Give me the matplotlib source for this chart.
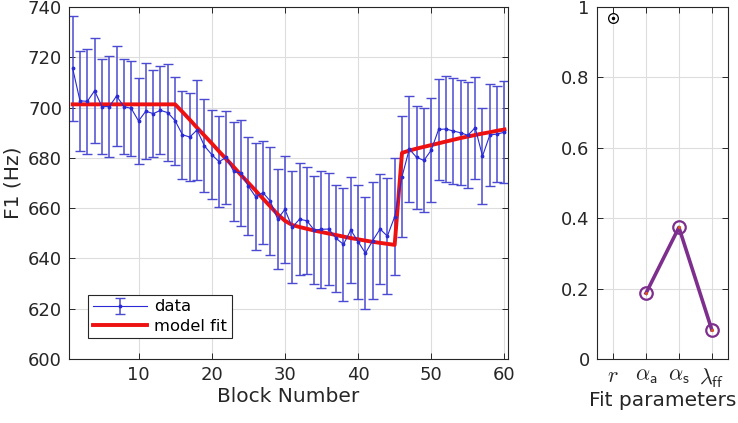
import numpy as np
import matplotlib
matplotlib.use("Agg")
import matplotlib.pyplot as plt

# block-wise F1 means and error bar half-widths
blocks = np.arange(1, 61)
f1_mean = [715.6, 702.7, 702.5, 706.7, 700.4, 700.4, 704.6, 700.4, 699.7, 694.7,
           698.6, 697.6, 698.9, 698.0, 694.8, 689.2, 688.3, 691.1, 684.8, 681.3,
           678.5, 680.2, 674.6, 674.0, 668.8, 664.5, 666.2, 662.8, 655.7, 659.5,
           652.4, 655.6, 655.0, 651.3, 651.6, 651.7, 648.0, 645.6, 651.3, 646.7,
           642.1, 647.1, 651.7, 648.9, 656.6, 672.5, 683.5, 680.2, 679.0, 683.1,
           691.3, 691.5, 690.7, 690.0, 689.0, 692.0, 680.7, 689.1, 689.5, 690.2]
f1_err = [20.8, 20.0, 21.0, 20.8, 19.0, 20.0, 20.0, 19.0, 19.0, 17.0,
          19.0, 17.4, 17.5, 19.3, 17.5, 17.5, 17.6, 19.7, 18.5, 17.6,
          18.0, 18.6, 19.7, 21.0, 19.4, 21.3, 20.5, 21.4, 20.0, 21.4,
          22.3, 22.2, 21.2, 21.3, 23.2, 22.1, 21.2, 22.4, 21.0, 22.7,
          22.3, 23.3, 21.7, 23.0, 23.3, 24.1, 21.2, 20.6, 20.7, 20.8,
          20.2, 21.1, 21.2, 20.9, 21.0, 20.2, 19.2, 20.1, 19.1, 20.2]
model_fit = [701.3] * 15 + [698.3, 695.2, 692.0, 688.9, 685.8, 682.6, 679.5, 676.4,
             673.2, 670.1, 667.0, 663.8, 660.7, 657.6, 655.0,
             653.3, 652.5, 651.8, 651.1, 650.5, 649.9, 649.3, 648.7, 648.1, 647.6,
             647.1, 646.6, 646.2, 645.8, 645.4,
             682.0, 682.9, 683.7, 684.4, 685.1, 685.8, 686.5, 687.2, 687.9, 688.5,
             689.1, 689.7, 690.2, 690.8, 691.3]

# fitted parameters
param_labels = [r'$r$', r'$\alpha_\mathsf{a}$', r'$\alpha_\mathsf{s}$', r'$\lambda_\mathsf{ff}$']
r_value = 0.97
rate_values = [0.187, 0.374, 0.083]

plt.rcParams['font.family'] = 'DejaVu Sans'
plt.rcParams['mathtext.fontset'] = 'cm'

fig = plt.figure(figsize=(7.38, 4.23), dpi=100)
ax = fig.add_axes([0.0935, 0.1513, 0.595, 0.832])
ax2 = fig.add_axes([0.8085, 0.1513, 0.1783, 0.832])

spine_col = '#262626'
for a in (ax, ax2):
    a.grid(True, color='#dddddd', linewidth=0.8)
    a.set_axisbelow(True)
    for s in a.spines.values():
        s.set_color(spine_col)
        s.set_linewidth(0.8)
    a.tick_params(direction='in', top=True, right=True, colors=spine_col,
                  labelsize=13, length=4, width=0.7, pad=5)

ax.errorbar(blocks, f1_mean, yerr=f1_err, color='#2a2ad6', ecolor='#4a4ad2',
            elinewidth=1.1, capsize=3.5, capthick=1.0, linewidth=0.8,
            marker='.', markersize=3.5, label='data')
ax.plot(blocks, model_fit, color='#ee1111', linewidth=2.8, label='model fit')
ax.set_xlim(0.5, 60.5)
ax.set_ylim(600, 740)
ax.set_xticks([10, 20, 30, 40, 50, 60])
ax.set_yticks(range(600, 741, 20))
ax.set_xlabel('Block Number', fontsize=14.5, color='#262626', labelpad=2)
ax.set_ylabel('F1 (Hz)', fontsize=14.5, color='#262626', labelpad=4)
handles, labels = ax.get_legend_handles_labels()
order = [labels.index('data'), labels.index('model fit')]
leg = ax.legend([handles[i] for i in order], [labels[i] for i in order],
                loc='lower left', bbox_to_anchor=(0.025, 0.035), fontsize=11.8,
                fancybox=False, edgecolor=spine_col, framealpha=1,
                handlelength=3.3, borderpad=0.3, labelspacing=0.25, handletextpad=0.4)
leg.get_frame().set_linewidth(0.8)

purple = '#7e2f8e'
ax2.plot([1], [r_value], 'o', markersize=7, markerfacecolor='none',
         markeredgecolor='black', markeredgewidth=0.9)
ax2.plot([1], [r_value], '.', markersize=3, color='black')
ax2.plot([2, 3, 4], rate_values, '-o', color=purple, linewidth=2.6,
         markersize=9, markerfacecolor='none', markeredgewidth=1.6)
ax2.plot([2, 3, 4], rate_values, '.', markersize=2.5, color='#d95319')
ax2.set_xlim(0.5, 4.5)
ax2.set_ylim(0, 1)
ax2.set_xticks([1, 2, 3, 4])
ax2.set_xticklabels(param_labels, fontsize=16)
ax2.set_yticks([0, 0.2, 0.4, 0.6, 0.8, 1])
ax2.set_yticklabels(['0', '0.2', '0.4', '0.6', '0.8', '1'])
ax2.set_xlabel('Fit parameters', fontsize=14.5, color='#262626', labelpad=1)

fig.savefig('out.png', dpi=100)
